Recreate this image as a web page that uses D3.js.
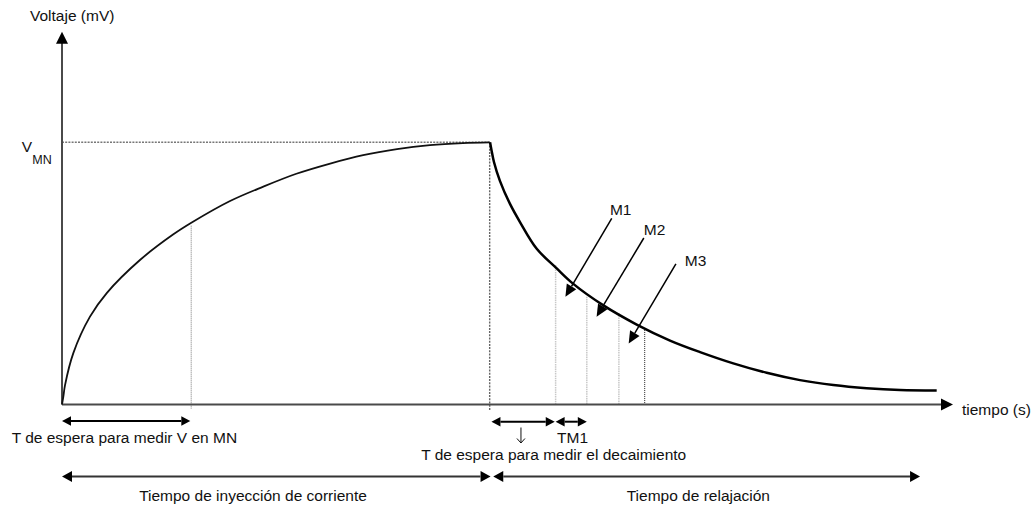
<!DOCTYPE html>
<html><head><meta charset="utf-8">
<script src="https://cdn.jsdelivr.net/npm/d3@7"></script>
<style>
html,body{margin:0;padding:0;background:#fff;}
svg{display:block;}
text{font-family:"Liberation Sans",Arial,sans-serif;fill:#111;}
</style>
</head><body>
<svg id="c" width="1034" height="507"></svg>
<script>
// ---- data (t in s, 0..100 ; v in % of V_MN) ----
const riseT = [0, 0.15, 0.34, 1.27, 3.14, 5.02, 8.75, 12.46, 14.56, 18.86, 22.6, 26.3, 30.1, 33.8, 37.6, 41.3, 45.0, 48.0];
const riseV = [0, 3.0, 7.4, 19.6, 33.5, 42.5, 55.1, 64.8, 69.4, 77.6, 83.1, 88.0, 91.9, 95.1, 97.4, 98.9, 99.7, 100];
const decayT = [48.04, 48.2, 48.48, 49.16, 50.28, 51.4, 53.28, 55.52, 57.35, 60.72, 64.5, 68.24, 71.61, 75.34, 79.09, 82.83, 86.57, 90.31, 94.05, 98.17];
const decayV = [100, 97.1, 92.5, 85.2, 76.5, 69.6, 59.4, 51.9, 46.1, 37.9, 30.5, 24.4, 20.0, 15.7, 12.1, 9.3, 7.4, 6.2, 5.5, 5.3];
const measureT = [55.4, 58.9, 62.5, 65.4];
const measureV = [53.2, 41.1, 34.9, 29.2];
const markerLabels = ["M1", "M2", "M3"];
const markerFromT = [61.7, 65.3, 68.9];
const markerFromV = [71.0, 63.5, 53.6];
const markerToT = [56.5, 60.0, 63.6];
const markerToV = [41.1, 33.5, 23.3];
const markerLabelT = [61.5, 65.3, 69.9];
const markerLabelV = [72.2, 64.6, 52.9];
const vMN = 100, tInjEnd = 48.0, tWaitV = 14.5, vWaitV = 68.2, tMax = 100, vMax = 142.2;
const spanStart = [0, 48.2, 55.4, 0, 48.4];
const spanEnd = [14.4, 55.3, 58.9, 48.1, 96.3];
const spanLabels = ["T de espera para medir V en MN", "T de espera para medir el decaimiento", "TM1", "Tiempo de inyección de corriente", "Tiempo de relajación"];
const axisLabels = ["Voltaje (mV)", "tiempo (s)"];

// ---- scales ----
const svg = d3.select("#c");
svg.append("rect").attr("width",1034).attr("height",507).attr("fill","#fff");
const x = d3.scaleLinear().domain([0, tMax]).range([62, 953]);
const y = d3.scaleLinear().domain([0, vMN]).range([404.5, 142.3]);
const yAx = d3.scaleLinear().domain([0, vMax]).range([y(0), y(vMax)]);

function head(g, tx, ty, fx, fy, len, half, fill) {
  const dx = tx - fx, dy = ty - fy, L = Math.hypot(dx, dy), ux = dx / L, uy = dy / L;
  const bx = tx - ux * len, by = ty - uy * len, px = -uy, py = ux;
  g.append("path")
    .attr("d", `M${tx},${ty}L${bx + px*half},${by + py*half}L${bx - px*half},${by - py*half}Z`)
    .attr("fill", fill);
  return [bx, by];
}

// ---- guides ----
svg.append("line").attr("x1", x(0)).attr("x2", x(tInjEnd)).attr("y1", y(vMN)).attr("y2", y(vMN))
  .attr("stroke", "#777").attr("stroke-width", 1.5).attr("stroke-dasharray", "2,1.2");
svg.append("line").attr("x1", x(tInjEnd)).attr("x2", x(tInjEnd)).attr("y1", y(vMN)).attr("y2", y(0) + 6)
  .attr("stroke", "#666").attr("stroke-width", 1.4).attr("stroke-dasharray", "2,1.2");
svg.append("line").attr("x1", x(tWaitV)).attr("x2", x(tWaitV)).attr("y1", y(vWaitV)).attr("y2", y(0) + 4)
  .attr("stroke", "#777").attr("stroke-width", 1).attr("stroke-dasharray", "1,1");
measureT.forEach((t, i) => {
  const last = i === measureT.length - 1;
  svg.append("line").attr("x1", x(t)).attr("x2", x(t)).attr("y1", y(measureV[i])).attr("y2", y(0))
    .attr("stroke", last ? "#222" : "#c8c8c8").attr("stroke-width", last ? 1 : 1.5)
    .attr("stroke-dasharray", last ? "1,1" : "1.5,0.8");
});

// ---- axes ----
const gx = svg.append("g").attr("transform", `translate(0,${y(0)})`)
  .call(d3.axisBottom(x).tickValues([]).tickSizeOuter(0));
gx.select(".domain").attr("stroke", "#4a4a4a").attr("stroke-width", 2).attr("d", `M${x(0)},0H${x(tMax) - 10}`);
head(svg, x(tMax), y(0), x(0), y(0), 12, 6, "#000");
const gy = svg.append("g").attr("transform", `translate(${x(0)},0)`)
  .call(d3.axisLeft(yAx).tickValues([]).tickSizeOuter(0));
gy.select(".domain").attr("stroke", "#4a4a4a").attr("stroke-width", 2).attr("d", `M0,${yAx(0)}V${yAx(vMax) + 10}`);
head(svg, x(0), yAx(vMax), x(0), y(0), 12, 6, "#000");

// ---- curves ----
const line = d3.line().x(d => x(d[0])).y(d => y(d[1])).curve(d3.curveCatmullRom.alpha(0.5));
svg.append("path").datum(riseT.map((t, i) => [t, riseV[i]])).attr("d", line)
  .attr("fill", "none").attr("stroke", "#111").attr("stroke-width", 1.8);
svg.append("path").datum(decayT.map((t, i) => [t, decayV[i]])).attr("d", line)
  .attr("fill", "none").attr("stroke", "#000").attr("stroke-width", 2.5);

// ---- M markers ----
markerLabels.forEach((m, i) => {
  const fx = x(markerFromT[i]), fy = y(markerFromV[i]), tx = x(markerToT[i]), ty = y(markerToV[i]);
  const b = head(svg, tx, ty, fx, fy, 12, 5.5, "#000");
  svg.append("line").attr("x1", fx).attr("y1", fy).attr("x2", b[0]).attr("y2", b[1])
    .attr("stroke", "#000").attr("stroke-width", 1.5);
  svg.append("text").attr("x", x(markerLabelT[i])).attr("y", y(markerLabelV[i]))
    .attr("font-size", 15.5).text(m);
});

// ---- axis labels ----
svg.append("text").attr("x", 30).attr("y", 20.5).attr("font-size", 15.5).text(axisLabels[0]);
svg.append("text").attr("x", 962).attr("y", 414.5).attr("font-size", 15.5).text(axisLabels[1]);
const vt = svg.append("text").attr("x", 21.7).attr("y", y(vMN) + 9.8).attr("font-size", 15.5);
vt.append("tspan").text("V");
vt.append("tspan").attr("dy", 11.5).attr("dx", 0.3).attr("font-size", 12.5).text("MN");

// ---- span arrows ----
const rowY = [421, 421.7, 421.7, 476.5, 476.5];
spanStart.forEach((s, i) => {
  const x0 = x(s), x1 = x(spanEnd[i]), yy = rowY[i];
  const big = i >= 3;
  const len = big ? 10 : 9, half = big ? 5.5 : 4.8;
  const a = head(svg, x0, yy, x1, yy, len, half, "#000");
  const b = head(svg, x1, yy, x0, yy, len, half, "#000");
  svg.append("line").attr("x1", a[0]).attr("x2", b[0]).attr("y1", yy).attr("y2", yy)
    .attr("stroke", big ? "#333" : "#000").attr("stroke-width", 2);
});
// small down arrow under decay-wait span
const dax = x(spanStart[1]) + 29.5;
svg.append("path").attr("d", `M${dax},427.5V442.5M${dax - 4},438.5L${dax},443L${dax + 4},438.5`)
  .attr("fill", "none").attr("stroke", "#111").attr("stroke-width", 1);

svg.append("text").attr("x", 11.7).attr("y", 443).attr("font-size", 15.5).text(spanLabels[0]);
svg.append("text").attr("x", 553.7).attr("y", 460).attr("font-size", 15.5).attr("text-anchor", "middle").text(spanLabels[1]);
svg.append("text").attr("x", 557).attr("y", 442.5).attr("font-size", 15.5).text(spanLabels[2]);
svg.append("text").attr("x", 253).attr("y", 501).attr("font-size", 15.5).attr("text-anchor", "middle").text(spanLabels[3]);
svg.append("text").attr("x", 770).attr("y", 501).attr("font-size", 15.5).attr("text-anchor", "end").text(spanLabels[4]);
</script>
</body></html>
